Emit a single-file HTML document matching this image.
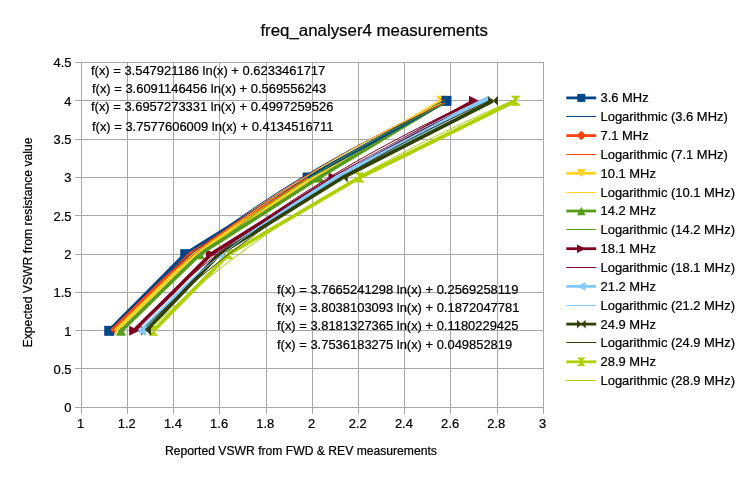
<!DOCTYPE html>
<html><head><meta charset="utf-8"><title>freq_analyser4 measurements</title>
<style>html,body{margin:0;padding:0;background:#fff}svg{display:block}</style></head>
<body>
<svg width="747" height="478" viewBox="0 0 747 478" font-family="'Liberation Sans', sans-serif" fill="#000">
<style>text{stroke:#000;stroke-width:0.22px}</style>
<rect width="747" height="478" fill="#fff"/>
<path d="M75.00 407.50H544.00M75.00 368.50H544.00M75.00 330.50H544.00M75.00 292.50H544.00M75.00 254.50H544.00M75.00 215.50H544.00M75.00 177.50H544.00M75.00 139.50H544.00M75.00 100.50H544.00M75.00 62.50H544.00M81.50 62.00V413.50M127.50 62.00V413.50M173.50 62.00V413.50M219.50 62.00V413.50M266.50 62.00V413.50M312.50 62.00V413.50M358.50 62.00V413.50M404.50 62.00V413.50M450.50 62.00V413.50M497.50 62.00V413.50M543.50 62.00V413.50" stroke="#a8a8a8" stroke-width="1" fill="none" shape-rendering="crispEdges"/>
<g font-size="12.95" text-anchor="end">
<text x="71.5" y="412.3">0</text>
<text x="71.5" y="374.0">0.5</text>
<text x="71.5" y="335.6">1</text>
<text x="71.5" y="297.3">1.5</text>
<text x="71.5" y="259.0">2</text>
<text x="71.5" y="220.6">2.5</text>
<text x="71.5" y="182.3">3</text>
<text x="71.5" y="144.0">3.5</text>
<text x="71.5" y="105.6">4</text>
<text x="71.5" y="67.3">4.5</text>
</g>
<g font-size="12.95" text-anchor="middle">
<text x="80.5" y="427.5">1</text>
<text x="126.7" y="427.5">1.2</text>
<text x="172.9" y="427.5">1.4</text>
<text x="219.1" y="427.5">1.6</text>
<text x="265.3" y="427.5">1.8</text>
<text x="311.5" y="427.5">2</text>
<text x="357.7" y="427.5">2.2</text>
<text x="403.9" y="427.5">2.4</text>
<text x="450.1" y="427.5">2.6</text>
<text x="496.3" y="427.5">2.8</text>
<text x="542.5" y="427.5">3</text>
</g>
<text x="374.2" y="35.6" font-size="16.85" text-anchor="middle">freq_analyser4 measurements</text>
<text x="301" y="455" font-size="12.15" text-anchor="middle">Reported VSWR from FWD &amp; REV measurements</text>
<text transform="translate(32.3,242.4) rotate(-90)" font-size="12.2" text-anchor="middle">Expected VSWR from resistance value</text>
<clipPath id="pc"><rect x="81.5" y="62.5" width="462.0" height="345.0"/></clipPath>
<polygon points="148.34,325.83 158.34,325.83 148.34,335.83 158.34,335.83" fill="#aecf00"/>
<polygon points="223.65,249.17 233.65,249.17 223.65,259.17 233.65,259.17" fill="#aecf00"/>
<polygon points="354.62,172.50 364.62,172.50 354.62,182.50 364.62,182.50" fill="#aecf00"/>
<polygon points="510.78,95.83 520.78,95.83 510.78,105.83 520.78,105.83" fill="#aecf00"/>
<polygon points="141.18,325.83 151.18,335.83 151.18,325.83 141.18,335.83" fill="#314004"/>
<polygon points="214.41,249.17 224.41,259.17 224.41,249.17 214.41,259.17" fill="#314004"/>
<polygon points="337.76,172.50 347.76,182.50 347.76,172.50 337.76,182.50" fill="#314004"/>
<polygon points="487.91,95.83 497.91,105.83 497.91,95.83 487.91,105.83" fill="#314004"/>
<polygon points="146.10,325.83 136.10,330.83 146.10,335.83" fill="#83caff"/>
<polygon points="224.18,249.17 214.18,254.17 224.18,259.17" fill="#83caff"/>
<polygon points="341.06,172.50 331.06,177.50 341.06,182.50" fill="#83caff"/>
<polygon points="488.21,95.83 478.21,100.83 488.21,105.83" fill="#83caff"/>
<polygon points="129.17,325.83 139.17,330.83 129.17,335.83" fill="#7e0021"/>
<polygon points="206.09,249.17 216.09,254.17 206.09,259.17" fill="#7e0021"/>
<polygon points="328.52,172.50 338.52,177.50 328.52,182.50" fill="#7e0021"/>
<polygon points="468.97,95.83 478.97,100.83 468.97,105.83" fill="#7e0021"/>
<polygon points="116.09,335.83 126.09,335.83 121.09,325.83" fill="#579d1c"/>
<polygon points="194.77,259.17 204.77,259.17 199.77,249.17" fill="#579d1c"/>
<polygon points="314.20,182.50 324.20,182.50 319.20,172.50" fill="#579d1c"/>
<polygon points="440.79,105.83 450.79,105.83 445.79,95.83" fill="#579d1c"/>
<polygon points="110.23,325.83 120.23,325.83 115.23,335.83" fill="#ffd320"/>
<polygon points="189.23,249.17 199.23,249.17 194.23,259.17" fill="#ffd320"/>
<polygon points="307.50,172.50 317.50,172.50 312.50,182.50" fill="#ffd320"/>
<polygon points="436.40,95.83 446.40,95.83 441.40,105.83" fill="#ffd320"/>
<polygon points="111.53,325.83 116.53,330.83 111.53,335.83 106.53,330.83" fill="#ff420e"/>
<polygon points="190.07,249.17 195.07,254.17 190.07,259.17 185.07,254.17" fill="#ff420e"/>
<polygon points="310.19,172.50 315.19,177.50 310.19,182.50 305.19,177.50" fill="#ff420e"/>
<polygon points="444.17,95.83 449.17,100.83 444.17,105.83 439.17,100.83" fill="#ff420e"/>
<rect x="104.22" y="325.83" width="10" height="10" fill="#004586"/>
<rect x="180.22" y="249.17" width="10" height="10" fill="#004586"/>
<rect x="302.65" y="172.50" width="10" height="10" fill="#004586"/>
<rect x="441.48" y="95.83" width="10" height="10" fill="#004586"/>
<polyline points="109.22,330.83 185.22,254.17 307.65,177.50 446.48,100.83" fill="none" stroke="#004586" stroke-width="3.7" stroke-linejoin="round"/>
<polyline points="111.53,330.83 190.07,254.17 310.19,177.50 444.17,100.83" fill="none" stroke="#ff420e" stroke-width="3.7" stroke-linejoin="round"/>
<polyline points="115.23,330.83 194.23,254.17 312.50,177.50 441.40,100.83" fill="none" stroke="#ffd320" stroke-width="3.7" stroke-linejoin="round"/>
<polyline points="121.09,330.83 199.77,254.17 319.20,177.50 445.79,100.83" fill="none" stroke="#579d1c" stroke-width="3.7" stroke-linejoin="round"/>
<path d="M307.65 177.50L446.48 100.83" fill="none" stroke="#004586" stroke-width="3.7"/>
<polyline points="134.17,330.83 211.09,254.17 333.52,177.50 473.97,100.83" fill="none" stroke="#7e0021" stroke-width="3.7" stroke-linejoin="round"/>
<polyline points="141.10,330.83 219.18,254.17 336.06,177.50 483.21,100.83" fill="none" stroke="#83caff" stroke-width="3.7" stroke-linejoin="round"/>
<polyline points="146.18,330.83 219.41,254.17 342.76,177.50 492.91,100.83" fill="none" stroke="#314004" stroke-width="3.7" stroke-linejoin="round"/>
<polyline points="153.34,330.83 228.65,254.17 359.62,177.50 515.78,100.83" fill="none" stroke="#aecf00" stroke-width="3.7" stroke-linejoin="round"/>
<polyline points="109.22,328.88 117.65,320.16 126.08,311.71 134.51,303.51 142.95,295.55 151.38,287.82 159.81,280.30 168.24,272.99 176.67,265.87 185.10,258.92 193.54,252.15 201.97,245.55 210.40,239.10 218.83,232.80 227.26,226.65 235.69,220.63 244.12,214.74 252.56,208.97 260.99,203.33 269.42,197.80 277.85,192.38 286.28,187.06 294.71,181.85 303.14,176.73 311.58,171.71 320.01,166.78 328.44,161.94 336.87,157.19 345.30,152.51 353.73,147.92 362.16,143.40 370.60,138.95 379.03,134.58 387.46,130.27 395.89,126.03 404.32,121.86 412.75,117.75 421.19,113.70 429.62,109.71 438.05,105.78 446.48,101.90" fill="none" stroke="#004586" stroke-width="1"/>
<polyline points="111.53,330.02 119.85,321.34 128.16,312.93 136.48,304.76 144.79,296.83 153.11,289.12 161.43,281.62 169.74,274.31 178.06,267.20 186.37,260.26 194.69,253.49 203.01,246.89 211.32,240.44 219.64,234.13 227.95,227.97 236.27,221.94 244.59,216.03 252.90,210.26 261.22,204.60 269.53,199.05 277.85,193.61 286.17,188.28 294.48,183.05 302.80,177.91 311.11,172.87 319.43,167.92 327.75,163.06 336.06,158.28 344.38,153.58 352.69,148.96 361.01,144.41 369.33,139.94 377.64,135.54 385.96,131.21 394.27,126.95 402.59,122.75 410.91,118.61 419.22,114.54 427.54,110.52 435.85,106.56 444.17,102.66" fill="none" stroke="#ff420e" stroke-width="1"/>
<polyline points="115.23,330.57 123.38,321.98 131.53,313.64 139.69,305.53 147.84,297.65 156.00,289.99 164.15,282.52 172.31,275.25 180.46,268.16 188.61,261.24 196.77,254.49 204.92,247.90 213.08,241.45 221.23,235.15 229.39,228.99 237.54,222.95 245.69,217.05 253.85,211.26 262.00,205.59 270.16,200.03 278.31,194.58 286.47,189.23 294.62,183.98 302.77,178.82 310.93,173.76 319.08,168.78 327.24,163.89 335.39,159.09 343.55,154.36 351.70,149.72 359.86,145.14 368.01,140.64 376.16,136.21 384.32,131.85 392.47,127.56 400.63,123.33 408.78,119.16 416.94,115.05 425.09,111.00 433.24,107.01 441.40,103.07" fill="none" stroke="#ffd320" stroke-width="1"/>
<polyline points="121.09,330.23 129.21,321.71 137.33,313.44 145.45,305.40 153.56,297.58 161.68,289.96 169.80,282.54 177.91,275.31 186.03,268.26 194.15,261.37 202.27,254.64 210.38,248.07 218.50,241.65 226.62,235.36 234.74,229.21 242.85,223.19 250.97,217.29 259.09,211.50 267.21,205.84 275.32,200.28 283.44,194.83 291.56,189.47 299.67,184.22 307.79,179.06 315.91,173.99 324.03,169.01 332.14,164.11 340.26,159.30 348.38,154.56 356.50,149.90 364.61,145.32 372.73,140.81 380.85,136.36 388.97,131.99 397.08,127.67 405.20,123.43 413.32,119.24 421.43,115.12 429.55,111.05 437.67,107.04 445.79,103.08" fill="none" stroke="#579d1c" stroke-width="1"/>
<polyline points="134.17,328.49 142.66,319.97 151.16,311.70 159.65,303.65 168.15,295.82 176.64,288.20 185.14,280.78 193.63,273.54 202.13,266.48 210.62,259.58 219.12,252.85 227.61,246.27 236.11,239.84 244.60,233.54 253.10,227.39 261.59,221.36 270.09,215.45 278.58,209.66 287.08,203.99 295.57,198.42 304.07,192.96 312.56,187.60 321.06,182.34 329.55,177.18 338.05,172.10 346.54,167.11 355.04,162.21 363.53,157.39 372.03,152.65 380.52,147.98 389.02,143.39 397.51,138.87 406.01,134.42 414.50,130.04 423.00,125.72 431.49,121.47 439.99,117.27 448.48,113.14 456.98,109.07 465.47,105.05 473.97,101.09" fill="none" stroke="#7e0021" stroke-width="1"/>
<polyline points="141.10,326.21 149.65,317.75 158.20,309.53 166.76,301.54 175.31,293.76 183.86,286.18 192.41,278.79 200.97,271.58 209.52,264.55 218.07,257.69 226.63,250.98 235.18,244.42 243.73,238.01 252.28,231.73 260.84,225.59 269.39,219.58 277.94,213.68 286.50,207.90 295.05,202.24 303.60,196.68 312.15,191.23 320.71,185.87 329.26,180.62 337.81,175.45 346.36,170.38 354.92,165.39 363.47,160.49 372.02,155.67 380.58,150.92 389.13,146.26 397.68,141.66 406.23,137.14 414.79,132.68 423.34,128.30 431.89,123.97 440.45,119.72 449.00,115.52 457.55,111.38 466.10,107.30 474.66,103.28 483.21,99.31" fill="none" stroke="#83caff" stroke-width="1"/>
<polyline points="146.18,326.19 154.85,317.73 163.52,309.51 172.18,301.51 180.85,293.73 189.52,286.15 198.19,278.76 206.86,271.55 215.53,264.52 224.19,257.65 232.86,250.93 241.53,244.37 250.20,237.95 258.87,231.67 267.54,225.52 276.20,219.50 284.87,213.60 293.54,207.82 302.21,202.15 310.88,196.58 319.55,191.12 328.21,185.76 336.88,180.50 345.55,175.33 354.22,170.24 362.89,165.25 371.56,160.34 380.22,155.51 388.89,150.76 397.56,146.08 406.23,141.48 414.90,136.95 423.56,132.49 432.23,128.09 440.90,123.76 449.57,119.50 458.24,115.29 466.91,111.15 475.57,107.06 484.24,103.03 492.91,99.05" fill="none" stroke="#314004" stroke-width="1"/>
<polyline points="153.34,325.75 162.40,317.27 171.46,309.03 180.52,301.01 189.58,293.22 198.65,285.63 207.71,278.24 216.77,271.03 225.83,264.00 234.89,257.13 243.95,250.43 253.01,243.87 262.07,237.47 271.13,231.20 280.19,225.07 289.26,219.06 298.32,213.18 307.38,207.41 316.44,201.76 325.50,196.22 334.56,190.78 343.62,185.45 352.68,180.21 361.74,175.06 370.80,170.00 379.87,165.04 388.93,160.15 397.99,155.35 407.05,150.62 416.11,145.98 425.17,141.40 434.23,136.90 443.29,132.47 452.35,128.10 461.41,123.80 470.48,119.57 479.54,115.39 488.60,111.28 497.66,107.22 506.72,103.22 515.78,99.27" fill="none" stroke="#aecf00" stroke-width="1"/>
<g font-size="12.95">
<text x="91" y="75">f(x) = 3.547921186 ln(x) + 0.6233461717</text>
<text x="92" y="93.4">f(x) = 3.6091146456 ln(x) + 0.569556243</text>
<text x="91" y="111.4">f(x) = 3.6957273331 ln(x) + 0.4997259526</text>
<text x="92" y="130.5">f(x) = 3.7577606009 ln(x) + 0.4134516711</text>
<text x="277" y="293.5">f(x) = 3.7665241298 ln(x) + 0.2569258119</text>
<text x="277" y="311.5">f(x) = 3.8038103093 ln(x) + 0.1872047781</text>
<text x="277" y="329.6">f(x) = 3.8181327365 ln(x) + 0.1180229425</text>
<text x="277" y="348.6">f(x) = 3.7536183275 ln(x) + 0.049852819</text>
</g>
<g font-size="12.95">
<path d="M566.3 97.90H596.2" stroke="#004586" stroke-width="2.8"/>
<rect x="577.30" y="93.90" width="8" height="8" fill="#004586"/>
<text x="600.5" y="102.30">3.6 MHz</text>
<path d="M566.3 116.50H596.2" stroke="#004586" stroke-width="1"/>
<text x="600.5" y="121.15">Logarithmic (3.6 MHz)</text>
<path d="M566.3 135.60H596.2" stroke="#ff420e" stroke-width="2.8"/>
<polygon points="581.30,130.85 586.05,135.60 581.30,140.35 576.55,135.60" fill="#ff420e"/>
<text x="600.5" y="140.00">7.1 MHz</text>
<path d="M566.3 154.50H596.2" stroke="#ff420e" stroke-width="1"/>
<text x="600.5" y="158.85">Logarithmic (7.1 MHz)</text>
<path d="M566.3 173.30H596.2" stroke="#ffd320" stroke-width="2.8"/>
<polygon points="577.00,169.00 585.60,169.00 581.30,177.60" fill="#ffd320"/>
<text x="600.5" y="177.70">10.1 MHz</text>
<path d="M566.3 192.50H596.2" stroke="#ffd320" stroke-width="1"/>
<text x="600.5" y="196.55">Logarithmic (10.1 MHz)</text>
<path d="M566.3 211.00H596.2" stroke="#579d1c" stroke-width="2.8"/>
<polygon points="577.00,215.30 585.60,215.30 581.30,206.70" fill="#579d1c"/>
<text x="600.5" y="215.40">14.2 MHz</text>
<path d="M566.3 229.50H596.2" stroke="#579d1c" stroke-width="1"/>
<text x="600.5" y="234.25">Logarithmic (14.2 MHz)</text>
<path d="M566.3 248.70H596.2" stroke="#7e0021" stroke-width="2.8"/>
<polygon points="577.00,244.40 585.60,248.70 577.00,253.00" fill="#7e0021"/>
<text x="600.5" y="253.10">18.1 MHz</text>
<path d="M566.3 267.50H596.2" stroke="#7e0021" stroke-width="1"/>
<text x="600.5" y="271.95">Logarithmic (18.1 MHz)</text>
<path d="M566.3 286.40H596.2" stroke="#83caff" stroke-width="2.8"/>
<polygon points="585.60,282.10 577.00,286.40 585.60,290.70" fill="#83caff"/>
<text x="600.5" y="290.80">21.2 MHz</text>
<path d="M566.3 305.50H596.2" stroke="#83caff" stroke-width="1"/>
<text x="600.5" y="309.65">Logarithmic (21.2 MHz)</text>
<path d="M566.3 324.10H596.2" stroke="#314004" stroke-width="2.8"/>
<polygon points="577.00,319.80 585.60,328.40 585.60,319.80 577.00,328.40" fill="#314004"/>
<text x="600.5" y="328.50">24.9 MHz</text>
<path d="M566.3 342.50H596.2" stroke="#314004" stroke-width="1"/>
<text x="600.5" y="347.35">Logarithmic (24.9 MHz)</text>
<path d="M566.3 361.80H596.2" stroke="#aecf00" stroke-width="2.8"/>
<polygon points="577.00,357.50 585.60,357.50 577.00,366.10 585.60,366.10" fill="#aecf00"/>
<text x="600.5" y="366.20">28.9 MHz</text>
<path d="M566.3 380.50H596.2" stroke="#aecf00" stroke-width="1"/>
<text x="600.5" y="385.05">Logarithmic (28.9 MHz)</text>
</g>
</svg>
</body></html>
